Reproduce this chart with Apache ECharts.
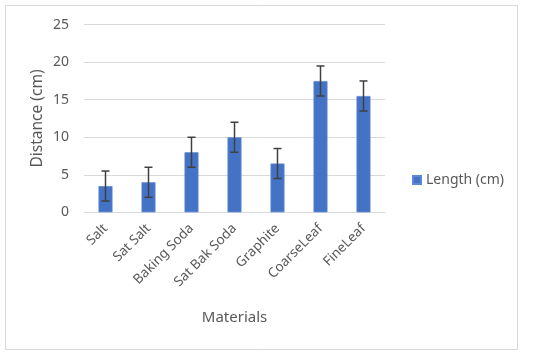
<!DOCTYPE html>
<html>
<head>
<meta charset="utf-8">
<script src="https://cdn.jsdelivr.net/npm/echarts@6/dist/echarts.min.js"></script>
<style>html,body{margin:0;padding:0;background:#fff}#c{width:550px;height:356px}</style>
</head>
<body>
<div id="c"></div>
<script>
const categories = ['Salt', 'Sat Salt', 'Baking Soda', 'Sat Bak Soda', 'Graphite', 'CoarseLeaf', 'FineLeaf'];
const lengths = [3.5, 4, 8, 10, 6.5, 17.5, 15.5];
const errors = [2, 2, 2, 2, 2, 2, 2];
const yTicks = { min: 0, max: 25, interval: 5 };

const errData = categories.map((c, i) => [i, lengths[i] - errors[i], lengths[i] + errors[i]]);
const FONT = 'Noto Sans';
const chart = echarts.init(document.getElementById('c'), null, { renderer: 'canvas' });
chart.setOption({
  animation: false,
  backgroundColor: '#fff',
  textStyle: { fontFamily: FONT },
  graphic: [{
    type: 'rect', shape: { x: 5.5, y: 5.5, width: 512, height: 344 },
    style: { fill: 'none', stroke: '#d9d9d9', lineWidth: 1 }, silent: true, z: -1
  }],
  grid: { left: 84, right: 165, top: 24.7, bottom: 143.7 },
  legend: {
    data: ['Length (cm)'], orient: 'vertical', left: 407, top: 168,
    itemWidth: 8, itemHeight: 8, icon: 'rect',
    textStyle: { color: '#595959', fontSize: 14, fontFamily: FONT }, itemGap: 4
  },
  xAxis: {
    type: 'category', data: categories,
    axisLine: { show: true, lineStyle: { color: '#d9d9d9', width: 1 } },
    axisTick: { show: false },
    axisLabel: { rotate: 45, color: '#595959', fontSize: 13.5, margin: 14, interval: 0, fontFamily: FONT },
    name: 'Materials', nameLocation: 'middle', nameGap: 98,
    nameTextStyle: { color: '#595959', fontSize: 15, fontFamily: FONT }
  },
  yAxis: {
    type: 'value', min: yTicks.min, max: yTicks.max, interval: yTicks.interval,
    splitLine: { lineStyle: { color: '#d9d9d9', width: 1 } },
    axisLine: { show: false }, axisTick: { show: false },
    axisLabel: { color: '#595959', fontSize: 14, margin: 15, fontFamily: FONT },
    name: 'Distance (cm)', nameLocation: 'middle', nameGap: 38, nameRotate: 90,
    nameMoveOverlap: false,
    nameTextStyle: { color: '#595959', fontSize: 15.5, fontFamily: FONT }
  },
  series: [{
    name: 'Length (cm)', type: 'bar', data: lengths, barWidth: 14,
    itemStyle: { color: '#4472C4', borderColor: '#5b87d6', borderWidth: 0.8 }
  }, {
    type: 'custom', name: 'err', data: errData, z: 10,
    renderItem: function (params, api) {
      const x = api.value(0);
      const lo = api.coord([x, api.value(1)]);
      const hi = api.coord([x, api.value(2)]);
      const w = 4;
      const st = { stroke: '#404040', lineWidth: 1.5 };
      return {
        type: 'group', children: [
          { type: 'line', shape: { x1: hi[0], y1: hi[1], x2: lo[0], y2: lo[1] }, style: st },
          { type: 'line', shape: { x1: hi[0] - w, y1: hi[1], x2: hi[0] + w, y2: hi[1] }, style: st },
          { type: 'line', shape: { x1: lo[0] - w, y1: lo[1], x2: lo[0] + w, y2: lo[1] }, style: st }
        ]
      };
    }
  }]
});
</script>
</body>
</html>
